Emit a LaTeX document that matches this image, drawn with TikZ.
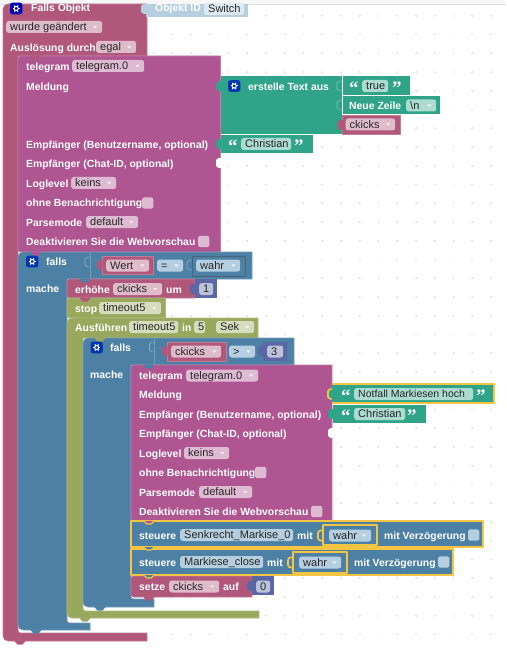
\documentclass[tikz,border=0pt]{standalone}
\usepackage{fontspec}
\usepackage{xcolor}
\usepackage{tikz}
\setmainfont{Liberation Sans}
\newfontfamily\quotefont{Liberation Serif}
\definecolor{hatred}{RGB}{176,87,122}
\definecolor{telemag}{RGB}{175,85,145}
\definecolor{textgreen}{RGB}{47,164,137}
\definecolor{logicblue}{RGB}{76,128,165}
\definecolor{timeolive}{RGB}{154,168,94}
\definecolor{mathpurple}{RGB}{91,103,165}
\definecolor{objblue}{RGB}{182,207,224}
\definecolor{selyellow}{RGB}{245,197,66}
\definecolor{dotgray}{RGB}{222,222,222}
\tikzset{
  lbl/.style={anchor=west, inner sep=0pt, yshift=-1.8pt, text=white, font=\fontsize{10.4}{12}\selectfont\bfseries,
    text height=7.5pt, text depth=2pt},
  fieldbox/.style={anchor=west, inner ysep=1pt, inner xsep=4pt, rounded corners=2.5pt,
    text=black!85, font=\fontsize{11}{12}\selectfont, text height=8.8pt, text depth=1.2pt},
  blockshape/.style={fill=#1, draw=#1!78!white, line width=.6pt},
  selblock/.style={fill=#1, draw=selyellow, line width=2pt},
  quotemark/.style={anchor=west, inner sep=0pt, text=white, font=\quotefont\fontsize{19}{19}\selectfont\bfseries}
}
% field running from x0 to x1 around the row y; #1 name, #6 colour
\newcommand{\fieldnode}[6]{%
  \pgfmathsetmacro{\fieldw}{#3-#2-8}%
  \node[fieldbox, fill=#6] (#1) at (#2,#4) {\makebox[\fieldw pt][l]{#5}};}
\newcommand{\dropfield}[6]{%
  \fieldnode{#1}{#2}{#3}{#4}{#5}{#6}%
  \fill[white!70!#6] (#3-9,#4-1.2) -- (#3-4.4,#4-1.2) -- (#3-6.7,#4+1.4) -- cycle;}
\newcommand{\checkfield}[3]{%
  \fill[#3, rounded corners=2.5pt] (#1,#2-5.7) rectangle (#1+11.4,#2+5.7);}
% round-cornered left side, square right side
\newcommand{\plainblock}[5]{%
  \draw[blockshape=#1] (#4,#3) -- (#4,#5) [rounded corners=2.5pt] -- (#2,#5) -- (#2,#3) [sharp corners] -- cycle;}
\newcommand{\cblock}[9]{%
  \draw[blockshape=#1] (#4,#3) -- (#4,#5) -- (#6,#5) [rounded corners=2.5pt] -- (#6,#7)
    [sharp corners] -- (#8,#7) -- (#8,#9) [rounded corners=5pt] -- (#2,#9) -- (#2,#3) [sharp corners] -- cycle;}
\newcommand{\puzzletab}[3]{%
  \fill[#3] (#1+.6,#2-5) -- (#1-2.6,#2-4.8) -- (#1-5,#2-3) -- (#1-5,#2+3) -- (#1-2.6,#2+4.8) -- (#1+.6,#2+5) -- cycle;}
\newcommand{\sockettab}[3]{%
  \draw[#3!62!white, line width=.6pt] (#1,#2-5) -- (#1-2.6,#2-4.8) -- (#1-5,#2-3) -- (#1-5,#2+3) -- (#1-2.6,#2+4.8) -- (#1,#2+5);}
\newcommand{\nexttab}[3]{%
  \fill[#3] (#1-6,#2-.5) -- (#1-2.5,#2+3.5) -- (#1+2.5,#2+3.5) -- (#1+6,#2-.5) -- cycle;}
\newcommand{\quoteopen}[3]{\node[quotemark] (#1) at (#2,#3+2) {“};}
\newcommand{\quoteclose}[3]{\node[quotemark] (#1) at (#2,#3+2) {”};}
\newcommand{\gearicon}[3]{%
  \fill[#3, rounded corners=2.5pt] (#1,#2-5.8) rectangle (#1+12.4,#2+5.8);
  \foreach \gearang in {0,60,...,300}{%
    \draw[white, line width=1pt] (#1+6.2,#2) ++(\gearang:1.6) -- ++(\gearang:2);}
  \draw[white, line width=1pt] (#1+6.2,#2) circle[radius=2.1];}

\begin{document}
\begin{tikzpicture}[x=1pt,y=-1pt,line cap=butt,line join=round]
  \useasboundingbox (0,0) rectangle (506,652);
  \fill[white] (0,0) rectangle (506,652);
  \fill[black!3] (0,0) rectangle (506,4);
  \draw[black!12, line width=.7pt] (0,4.3) -- (506,4.3);

  % workspace dots
  \foreach \dotcol in {0,...,26}{%
    \foreach \dotrow in {-1,...,33}{%
      \fill[dotgray] (3.4+\dotcol*18.75-.9,34.5+\dotrow*18.75-.3) rectangle ++(1.8,.6);
      \fill[dotgray] (3.4+\dotcol*18.75-.3,34.5+\dotrow*18.75-.9) rectangle ++(.6,1.8);
    }%
  }%

  % outer trigger block
  \cblock{hatred}{3}{4}{147}{56}{18}{633}{147}{641}
  \nexttab{20}{641}{hatred}
  \gearicon{10}{8.5}{blue!70!black}
  \node[lbl] (fallsObjekt) at (31,7) {Falls Objekt};
  \dropfield{wurdeField}{6}{102}{27}{wurde geändert}{hatred!40!white}
  \node[lbl] (ausloesung) at (10,47) {Auslösung durch};
  \dropfield{egalField}{96}{136}{47}{egal}{hatred!40!white}

  \fill[objblue] (146,4) rectangle (248,17);
  \puzzletab{146}{9}{objblue}
  \node[lbl] (objektId) at (155,7) {Objekt ID};
  \fieldnode{switchField}{204}{244}{9}{Switch}{objblue!45!white}

  % first telegram block
  \plainblock{telemag}{18}{56}{220.5}{252}
  \nexttab{35}{56}{hatred}
  \node[lbl] (telegramA) at (26,66) {telegram};
  \dropfield{telegramFieldA}{72}{144}{66}{telegram.0}{telemag!40!white}
  \node[lbl] (meldungA) at (26,86) {Meldung};
  \node[lbl] (benutzerA) at (26,144) {Empfänger (Benutzername, optional)};
  \node[lbl] (chatA) at (26,163) {Empfänger (Chat-ID, optional)};
  \node[lbl] (loglevelA) at (26,183) {Loglevel};
  \dropfield{keinsFieldA}{71}{116}{183}{keins}{telemag!40!white}
  \node[lbl] (ohneA) at (26,202) {ohne Benachrichtigung};
  \checkfield{142}{203}{telemag!40!white}
  \node[lbl] (parseA) at (26,222) {Parsemode};
  \dropfield{defaultFieldA}{86}{138}{222}{default}{telemag!40!white}
  \node[lbl] (webA) at (26,241) {Deaktivieren Sie die Webvorschau};
  \checkfield{198}{241.5}{telemag!40!white}
  \puzzletab{221}{163}{white}

  % text join
  \fill[textgreen] (220.5,76) rectangle (342,134);
  \puzzletab{221}{86}{textgreen}
  \gearicon{228}{86}{blue!70!cyan!70!black}
  \node[lbl] (erstelle) at (248,86) {erstelle Text aus};
  \fill[textgreen] (342.5,76) rectangle (409.5,95);
  \sockettab{342}{86}{textgreen}
  \quoteopen{quoteTrueA}{349}{86}
  \fieldnode{trueField}{362}{388}{86}{true}{textgreen!40!white}
  \quoteclose{quoteTrueB}{392}{86}
  \fill[textgreen] (342.5,96) rectangle (440,114);
  \sockettab{342}{105}{textgreen}
  \node[lbl] (neueZeile) at (349,105) {Neue Zeile};
  \dropfield{newlineField}{406}{436}{105.5}{\textbackslash n}{textgreen!40!white}
  \draw[blockshape=hatred] (342.5,115) rectangle (400,134);
  \puzzletab{342.5}{125}{hatred}
  \dropfield{ckicksFieldA}{345.5}{395}{124.5}{ckicks}{hatred!40!white}
  \fill[textgreen] (220.5,135) rectangle (312.5,153.5);
  \puzzletab{221}{144}{textgreen}
  \quoteopen{quoteChrisA}{228}{144}
  \fieldnode{christianFieldA}{241}{291}{144}{Christian}{textgreen!40!white}
  \quoteclose{quoteChrisB}{294}{144}

  % first condition
  \cblock{logicblue}{18}{252}{252}{279}{67}{623}{90}{630}
  \nexttab{36}{630}{logicblue}
  \nexttab{36}{252}{telemag}
  \gearicon{26}{261.5}{blue!70!cyan!70!black}
  \node[lbl] (fallsA) at (46,261) {falls};
  \node[lbl] (macheA) at (26,288) {mache};
  \draw[logicblue!78!white, line width=.6pt] (90,252) -- (90,279);
  \sockettab{90}{262}{logicblue}
  \draw[blockshape=hatred] (102,256) rectangle (153,274);
  \puzzletab{102}{265}{hatred}
  \dropfield{wertField}{106}{149}{265.5}{Wert}{hatred!40!white}
  \dropfield{gleichField}{157}{183}{265.5}{=}{objblue}
  \sockettab{192}{265}{logicblue}
  \draw[logicblue!65!black!90!white, line width=.6pt] (192,256) rectangle (245,276);
  \dropfield{wahrFieldA}{196}{240}{265.5}{wahr}{objblue}

  % counter, stop, timeout
  \plainblock{hatred}{67}{279}{195}{298}
  \nexttab{85}{279}{logicblue}
  \node[lbl] (erhoehe) at (75,289) {erhöhe};
  \dropfield{ckicksFieldB}{113}{162}{289}{ckicks}{hatred!40!white}
  \node[lbl] (um) at (166,289) {um};
  \fill[mathpurple] (195,279) rectangle (217,298);
  \puzzletab{195}{289}{mathpurple}
  \fieldnode{einsField}{199}{213}{289}{1}{mathpurple!40!white}

  \plainblock{timeolive}{67}{298}{165.5}{318}
  \nexttab{85}{298}{hatred}
  \node[lbl] (stop) at (75,308) {stop};
  \dropfield{stopField}{99}{161}{308}{timeout5}{timeolive!40!white}

  \cblock{timeolive}{67}{318}{258}{338}{83}{611}{259}{618}
  \nexttab{85}{618}{timeolive}
  \nexttab{85}{318}{timeolive}
  \node[lbl] (ausfuehren) at (75,327) {Ausführen};
  \fieldnode{timeoutField}{129}{178}{327}{timeout5}{timeolive!40!white}
  \node[lbl] (inLabel) at (182,327) {in};
  \fieldnode{fuenfField}{194}{205}{327}{5}{timeolive!40!white}
  \dropfield{sekField}{216}{254}{327}{Sek}{timeolive!40!white}

  % second condition
  \cblock{logicblue}{83}{338}{294}{365}{131}{599}{154}{607}
  \nexttab{100}{607}{logicblue}
  \nexttab{100}{338}{timeolive}
  \gearicon{90.5}{347.5}{blue!70!cyan!70!black}
  \node[lbl] (fallsB) at (110,347) {falls};
  \node[lbl] (macheB) at (90,374) {mache};
  \draw[logicblue!78!white, line width=.6pt] (154.5,338) -- (154.5,365);
  \sockettab{154.5}{347}{logicblue}
  \draw[blockshape=hatred] (167,342) rectangle (226,361);
  \puzzletab{167}{351}{hatred}
  \dropfield{ckicksFieldC}{171}{221}{351.5}{ckicks}{hatred!40!white}
  \dropfield{groesserField}{229}{255}{351.5}{>}{objblue}
  \fill[mathpurple] (263,342) rectangle (287,361);
  \puzzletab{263}{351}{mathpurple}
  \fieldnode{dreiField}{267}{283}{351.5}{3}{mathpurple!40!white}

  % second telegram block
  \plainblock{telemag}{131}{365}{332}{521}
  \nexttab{149}{365}{logicblue}
  \node[lbl] (telegramB) at (139,375) {telegram};
  \dropfield{telegramFieldB}{186}{258}{375.5}{telegram.0}{telemag!40!white}
  \node[lbl] (meldungB) at (139,394) {Meldung};
  \node[lbl] (benutzerB) at (139,414) {Empfänger (Benutzername, optional)};
  \node[lbl] (chatB) at (139,433) {Empfänger (Chat-ID, optional)};
  \node[lbl] (loglevelB) at (139,453) {Loglevel};
  \dropfield{keinsFieldB}{184}{229}{453}{keins}{telemag!40!white}
  \node[lbl] (ohneB) at (139,472) {ohne Benachrichtigung};
  \checkfield{255}{472.5}{telemag!40!white}
  \node[lbl] (parseB) at (139,492) {Parsemode};
  \dropfield{defaultFieldB}{199}{252}{492}{default}{telemag!40!white}
  \node[lbl] (webB) at (139,511) {Deaktivieren Sie die Webvorschau};
  \checkfield{311}{511.5}{telemag!40!white}
  \puzzletab{333}{433}{white}

  \draw[selblock=textgreen] (333,384) rectangle (493.5,403);
  \draw[selyellow, fill=textgreen, line width=1.6pt] (333,389) -- (330,389.2) -- (328,391) -- (328,397) -- (330,398.8) -- (333,399);
  \fill[textgreen] (332,385) rectangle (335,402);
  \quoteopen{quoteNotA}{341}{394}
  \fieldnode{notfallField}{354}{473}{394}{\fontsize{10.5}{12}\selectfont Notfall Markiesen hoch}{textgreen!40!white}
  \quoteclose{quoteNotB}{476}{394}
  \fill[textgreen] (333,405) rectangle (425.5,423);
  \puzzletab{333}{414}{textgreen}
  \quoteopen{quoteChrisC}{341}{414}
  \fieldnode{christianFieldB}{354}{405}{414}{Christian}{textgreen!40!white}
  \quoteclose{quoteChrisD}{407}{414}

  % setze block goes under the selected ones
  \plainblock{hatred}{131}{576}{252}{597}
  \nexttab{149}{597}{hatred}
  \fill[mathpurple] (252,576) rectangle (274,595);
  \puzzletab{252}{586}{mathpurple}
  \node[lbl] (setze) at (139,586) {setze};
  \dropfield{ckicksFieldD}{169}{219}{586.5}{ckicks}{hatred!40!white}
  \node[lbl] (auf) at (223,586) {auf};
  \fieldnode{nullField}{256}{270}{586.5}{0}{mathpurple!40!white}

  % selected switch blocks
  \draw[selblock=logicblue] (131,548.5) rectangle (453,575);
  \draw[selblock=logicblue] (131,521) rectangle (483,547);
  \foreach \tabx/\taby in {149/547,149/575}{%
    \draw[selyellow, fill=logicblue, line width=1.2pt] (\tabx-5.5,\taby) -- (\tabx-2,\taby+3) -- (\tabx+2,\taby+3) -- (\tabx+5.5,\taby);
  }%
  \draw[selyellow, fill=telemag, line width=1.2pt] (143.5,521) -- (147,524) -- (151,524) -- (154.5,521);

  \node[lbl] (steuereA) at (139,535) {steuere};
  \fieldnode{senkrechtField}{180}{293}{535}{Senkrecht\_Markise\_0}{objblue}
  \node[lbl] (mitA) at (297,535) {mit};
  \draw[selyellow, line width=1.6pt] (323,530) -- (319,531) -- (318,533) -- (318,538) -- (319,540) -- (323,541);
  \draw[selyellow, line width=1.4pt, fill=logicblue] (323,525) rectangle (377,545);
  \dropfield{wahrFieldB}{329}{371}{535.5}{wahr}{objblue}
  \node[lbl] (verzA) at (384,535) {mit Verzögerung};
  \checkfield{468}{535}{objblue}

  \node[lbl] (steuereB) at (139,562) {steuere};
  \fieldnode{closeField}{180}{263}{562}{Markiese\_close}{objblue}
  \node[lbl] (mitB) at (267,562) {mit};
  \draw[selyellow, line width=1.6pt] (293,557) -- (289,558) -- (288,560) -- (288,565) -- (289,567) -- (293,568);
  \draw[selyellow, line width=1.4pt, fill=logicblue] (293,552) rectangle (347,573);
  \dropfield{wahrFieldC}{299}{341}{562.5}{wahr}{objblue}
  \node[lbl] (verzB) at (354,562) {mit Verzögerung};
  \checkfield{438}{562}{objblue}
\end{tikzpicture}
\end{document}
